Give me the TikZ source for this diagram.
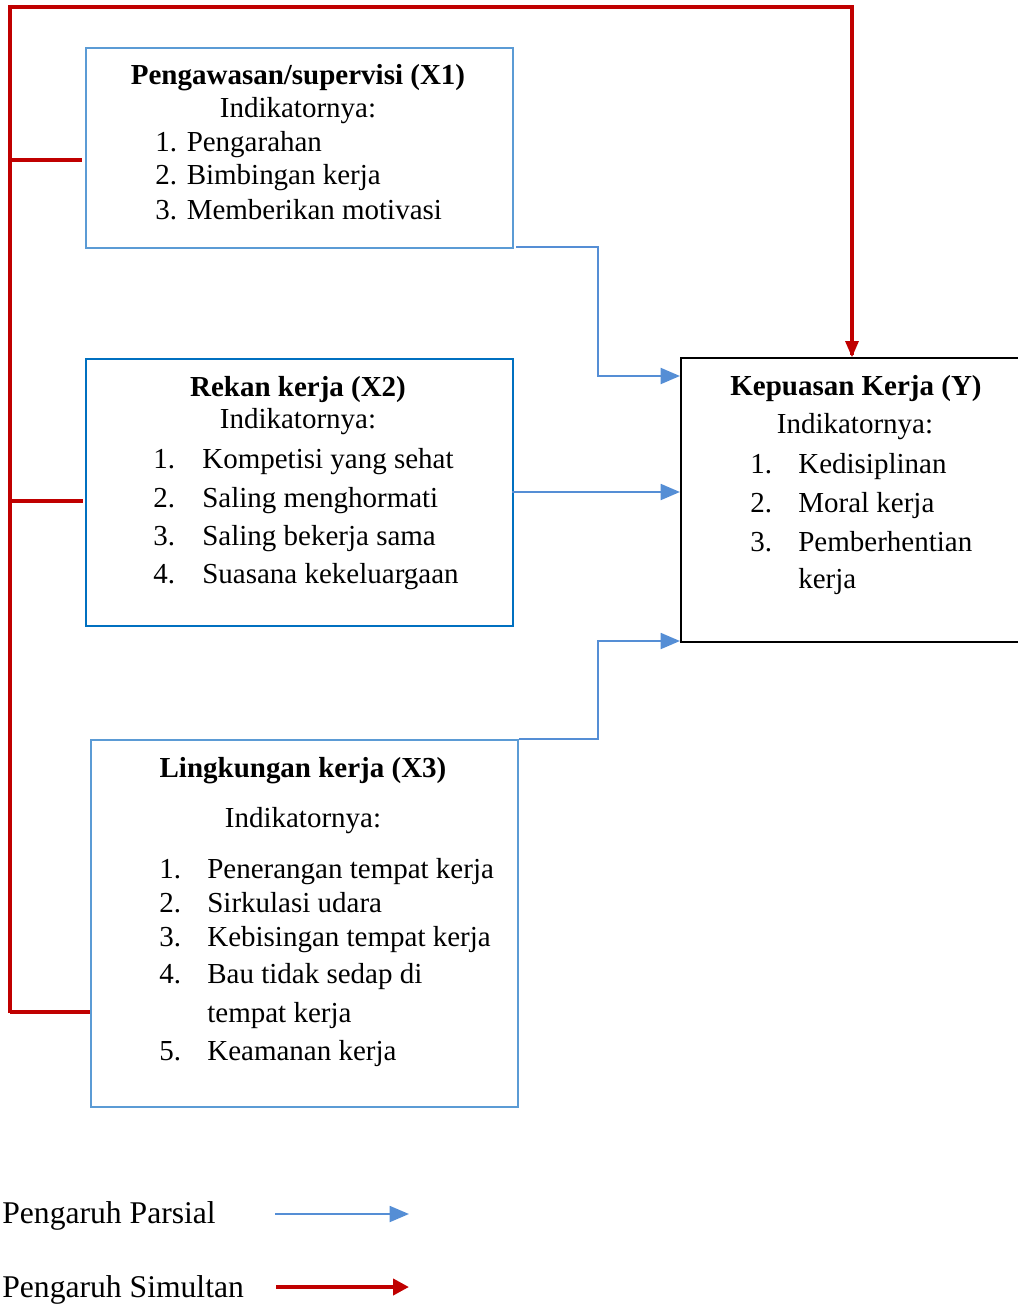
\documentclass[tikz,border=0pt]{standalone}
\usepackage{fontspec}
\setmainfont{Liberation Serif}
\usetikzlibrary{arrows.meta}
\definecolor{boxblue}{RGB}{91,155,213}
\definecolor{darkblue}{RGB}{0,112,192}
\definecolor{partblue}{RGB}{85,142,213}
\definecolor{simred}{RGB}{192,0,0}
\tikzset{
  box/.style={draw=#1, line width=1.1pt, anchor=north west, inner sep=0pt,
    minimum width=8.54cm},
  txt/.style={anchor=base west, inner sep=0pt, font=\fontsize{16.5}{20}\selectfont},
  mid/.style={anchor=base, inner sep=0pt, font=\fontsize{16.5}{20}\selectfont},
  head/.style={mid, font=\fontsize{16.5}{20}\selectfont\bfseries},
  leg/.style={anchor=base west, inner sep=0pt, font=\fontsize{18}{21}\selectfont},
  partial/.style={draw=partblue, line width=1.4pt, -{Triangle[length=11pt,width=9pt]}},
  simul/.style={draw=simred, line width=2.6pt},
}
\begin{document}
\begin{tikzpicture}[x=0.02cm, y=-0.02cm]
    \useasboundingbox (0,0) rectangle (1017,1304);
    % boxes
    \node[box=boxblue, minimum height=4cm] (x1box) at (85,47) {};
    \node[box=darkblue, minimum height=5.34cm] (x2box) at (85,358) {};
    \node[box=boxblue, minimum height=7.34cm] (x3box) at (90,739) {};
    \node[box=black, line width=1.2pt, minimum width=6.8cm, minimum height=5.68cm] (ybox) at (680,357) {};

    % X1
    \node[head] (x1title) at (298,85) {Pengawasan/supervisi (X1)};
    \node[mid] (x1ind) at (298,118) {Indikatornya:};
    \node[txt] (x1a) at (155,152) {1. Pengarahan};
    \node[txt] (x1b) at (155,185) {2. Bimbingan kerja};
    \node[txt] (x1c) at (155,219) {3. Memberikan motivasi};

    % X2
    \node[head] (x2title) at (298,396) {Rekan kerja (X2)};
    \node[mid] (x2ind) at (298,428) {Indikatornya:};
    \foreach \n/\t/\yy in {1/Kompetisi yang sehat/468, 2/Saling menghormati/507,
                           3/Saling bekerja sama/545, 4/Suasana kekeluargaan/583} {
        \node[txt] (x2n\n) at (153,\yy) {\n.};
        \node[txt] (x2t\n) at (202,\yy) {\t};
    }

    % X3
    \node[head] (x3title) at (303,777) {Lingkungan kerja (X3)};
    \node[mid] (x3ind) at (303,827) {Indikatornya:};
    \foreach \n/\t/\yy in {1/Penerangan tempat kerja/878, 2/Sirkulasi udara/912,
                           3/Kebisingan tempat kerja/946, 4/Bau tidak sedap di/983,
                           5/Keamanan kerja/1060} {
        \node[txt] (x3n\n) at (159,\yy) {\n.};
        \node[txt] (x3t\n) at (207,\yy) {\t};
    }
    \node[txt] (x3t4b) at (207,1022) {tempat kerja};

    % Y
    \node[head] (ytitle) at (856,395) {Kepuasan Kerja (Y)};
    \node[mid] (yind) at (855,433) {Indikatornya:};
    \foreach \n/\t/\yy in {1/Kedisiplinan/473, 2/Moral kerja/512, 3/Pemberhentian/551} {
        \node[txt] (yn\n) at (750,\yy) {\n.};
        \node[txt] (yt\n) at (798,\yy) {\t};
    }
    \node[txt] (yt3b) at (798,588) {kerja};

    % partial arrows
    \coordinate (x1out) at (516,247);
    \coordinate (yin1) at (680,376);
    \coordinate (x2out) at (512,492);
    \coordinate (yin2) at (680,492);
    \coordinate (yin3) at (680,641);
    \draw[partial] (x1out) -- (598,247) |- (yin1);
    \draw[partial] (x2out) -- (yin2);
    \draw[partial] (x3box.north east) -- (598,739) |- (yin3);

    % simultaneous lines
    \coordinate (rtop) at (10,7);
    \coordinate (rbot) at (10,1013);
    \coordinate (ytop) at (852,7);
    \draw[simul, line join=miter] (rbot) -- (rtop) -- (ytop)
        -- ([yshift=1pt]ybox.north -| ytop);
    \fill[simred] (852,357) -- ++(-7,-16) -- ++(14,0) -- cycle;
    \draw[simul] (10,160) -- (82,160);
    \draw[simul] (10,501) -- (83,501);
    \draw[simul] (10,1012) -- (x3box.west |- 0,1012);

    % legend
    \node[leg] (legpar) at (2,1223) {Pengaruh Parsial};
    \node[leg] (legsim) at (2,1297) {Pengaruh Simultan};
    \coordinate (parA) at (275,1214);
    \coordinate (parB) at (409,1214);
    \coordinate (simA) at (276,1287);
    \coordinate (simB) at (409,1287);
    \draw[partial] (parA) -- (parB);
    \draw[simul, -{Triangle[length=9pt,width=9pt]}] (simA) -- (simB);
\end{tikzpicture}
\end{document}
